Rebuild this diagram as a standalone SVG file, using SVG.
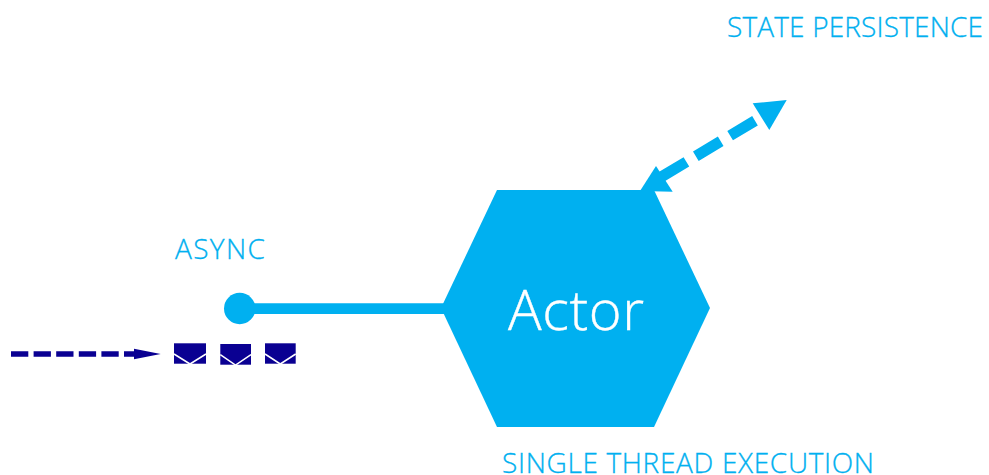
<svg xmlns="http://www.w3.org/2000/svg" width="989" height="475" viewBox="0 0 989 475">
<style>
.l{font-family:"Open Sans","Noto Sans",sans-serif;font-weight:300;fill:#00b0f0;stroke:#00b0f0;stroke-width:.3;font-size:28px}
.env{fill:#0a0092}
.flap{fill:none;stroke:#fff;stroke-width:1.5}
</style>
<rect width="989" height="475" fill="#fff"/>
<g id="connectors">
<line x1="240" y1="308.700" x2="445" y2="308.700" stroke="#00b0f0" stroke-width="10.700"/>
<circle cx="239.700" cy="308.500" r="15.700" fill="#00b0f0"/>
<path d="M11 354H135" stroke="#0a0092" stroke-width="5.500" stroke-dasharray="17.300 5.300" fill="none"/>
<polygon points="134,348.700 160.700,354 134,359.300" fill="#0a0092"/>
<path d="M755 120.700L660 177.700" stroke="#00b0f0" stroke-width="11" stroke-dasharray="29 11" fill="none"/>
<polygon points="752.700,103.300 786.700,100 769.300,130" fill="#00b0f0"/>
<polygon points="640,191 656,166 672.700,191.700" fill="#00b0f0"/>
</g>
<g id="actor">
<polygon points="497,190 654,190 710,308 654,427 497,427 441,308" fill="#00b0f0"/>
<text x="508" y="330" textLength="136" font-family="'Open Sans','Noto Sans',sans-serif" font-weight="300" font-size="56" fill="#fff" stroke="#fff" stroke-width=".4">Actor</text>
</g>
<g id="state-label"><text class="l" x="727" y="37" textLength="256">STATE PERSISTENCE</text></g>
<g id="async-label"><text class="l" x="175" y="259" textLength="90">ASYNC</text></g>
<g id="thread-label"><text class="l" x="502" y="472.500" textLength="372">SINGLE THREAD EXECUTION</text></g>
<g id="msg1"><rect class="env" x="174" y="343.300" width="32" height="20.400"/><path class="flap" d="M174 354L190 364L206 354"/></g>
<g id="msg2"><rect class="env" x="220.300" y="344" width="30.700" height="20.700"/><path class="flap" d="M220.300 354.700L235.500 365L251 354.700"/></g>
<g id="msg3"><rect class="env" x="265" y="343.300" width="30.700" height="20.400"/><path class="flap" d="M265 354L280.300 364L295.700 354"/></g>
</svg>
